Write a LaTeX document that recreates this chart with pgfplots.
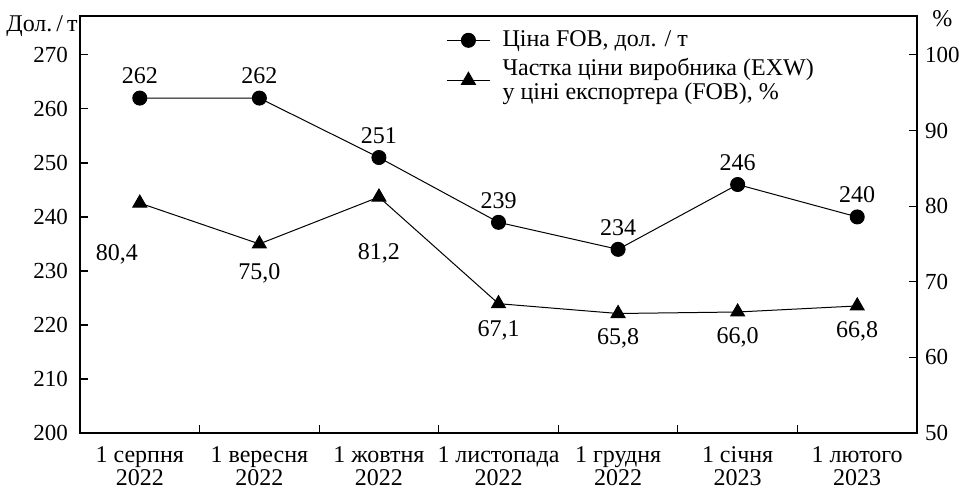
\documentclass[border=0pt]{standalone}
\usepackage{fontspec}
\setmainfont{Liberation Serif}
\usepackage{pgfplots}
\pgfplotsset{compat=1.18}
\usepackage{pgfplotstable}

\pgfplotstableread{
x y
0 262
1 262
2 251
3 239
4 234
5 246
6 240
}\fob
\pgfplotstableread{
x y dx dy
0 80.4 -11.5 -25.5
1 75.0 0 -14.5
2 81.2 0 -28
3 67.1 0 -13.5
4 65.8 0 -12.5
5 66.0 0 -12.5
6 66.8 0 -12.5
}\share

\begin{document}
\fontsize{11.5}{12.5}\selectfont
\begin{tikzpicture}
\pgfplotsset{
  common/.style={
    scale only axis,
    clip=false,
    width=418.5pt, height=208.5pt,
    xmin=-0.5, xmax=6.5,
    axis line style={line width=0.75pt},
    tick style={line width=0.6pt, black},
    major tick length=4pt, minor tick length=4pt,
    tick align=inside,
    font=\fontsize{11.5}{12.5}\selectfont,
    /pgf/number format/assume math mode=true,
  },
}
\begin{axis}[common,
  ymin=200, ymax=277.2,
  ytick={200,210,...,270},
  ytick pos=left,
  xtick={0,...,6},
  xtick pos=bottom,
  major x tick style={draw=none},
  minor xtick={0.5,1.5,...,5.5},
  xticklabels={{1 серпня\\2022},{1 вересня\\2022},{1 жовтня\\2022},{1 листопада\\2022},{1 грудня\\2022},{1 січня\\2023},{1 лютого\\2023}},
  xticklabel style={align=center, yshift=-3pt, font=\fontsize{12}{11.5}\selectfont},
  yticklabel style={xshift=-2pt},
  legend style={draw=none, fill=none, at={(0.43,0.985)}, anchor=north west,
    cells={anchor=west, align=left}, row sep=0pt,
    font=\fontsize{12}{12}\selectfont,
    /tikz/every odd column/.append style={column sep=4pt}},
  legend image code/.code={\draw[mark repeat=2,mark phase=2] plot coordinates {(0cm,0cm) (0.38cm,0cm) (0.76cm,0cm)};},
  nodes near coords,
  point meta=explicit symbolic,
  every node near coord/.style={anchor=center, yshift=11pt, font=\fontsize{12}{12.5}\selectfont},
]
\addplot[black, line width=0.5pt, mark=*, mark size=3.5pt] table[x=x, y=y, meta=y] {\fob};
\addlegendentry{Ціна FOB, дол. / т}
\addlegendimage{black, line width=0.5pt, mark=triangle*, mark size=4pt}
\addlegendentry{Частка ціни виробника (EXW)\\у ціні експортера (FOB), \%}
\node[anchor=north east, inner sep=0pt, font=\fontsize{12}{12}\selectfont] at ([xshift=-1pt, yshift=0.5pt]rel axis cs:0,1) {Дол.\,/\,т};
\node[anchor=north west, inner sep=0pt, font=\fontsize{12}{12}\selectfont] at ([xshift=7.5pt, yshift=3pt]rel axis cs:1,1) {\%};
\end{axis}
\begin{axis}[common,
  ymin=50, ymax=105.14,
  ytick={50,60,...,100},
  axis x line=none,
  axis y line*=right,
  yticklabel style={xshift=0pt},
  visualization depends on={\thisrow{dx} \as \dx},
  visualization depends on={\thisrow{dy} \as \dy},
  nodes near coords={\pgfmathprintnumber[fixed, fixed zerofill, precision=1, use comma]{\pgfplotspointmeta}},
  point meta=explicit,
  every node near coord/.style={anchor=center, xshift=\dx pt, yshift=\dy pt, font=\fontsize{12}{12.5}\selectfont},
]
\addplot[black, line width=0.5pt, mark=triangle*, mark size=4pt] table[x=x, y=y, meta=y] {\share};
\end{axis}
\pgfresetboundingbox
\path ([xshift=-40pt, yshift=-29pt]current axis.south west) rectangle ([xshift=22pt, yshift=8pt]current axis.north east);
\end{tikzpicture}
\end{document}
